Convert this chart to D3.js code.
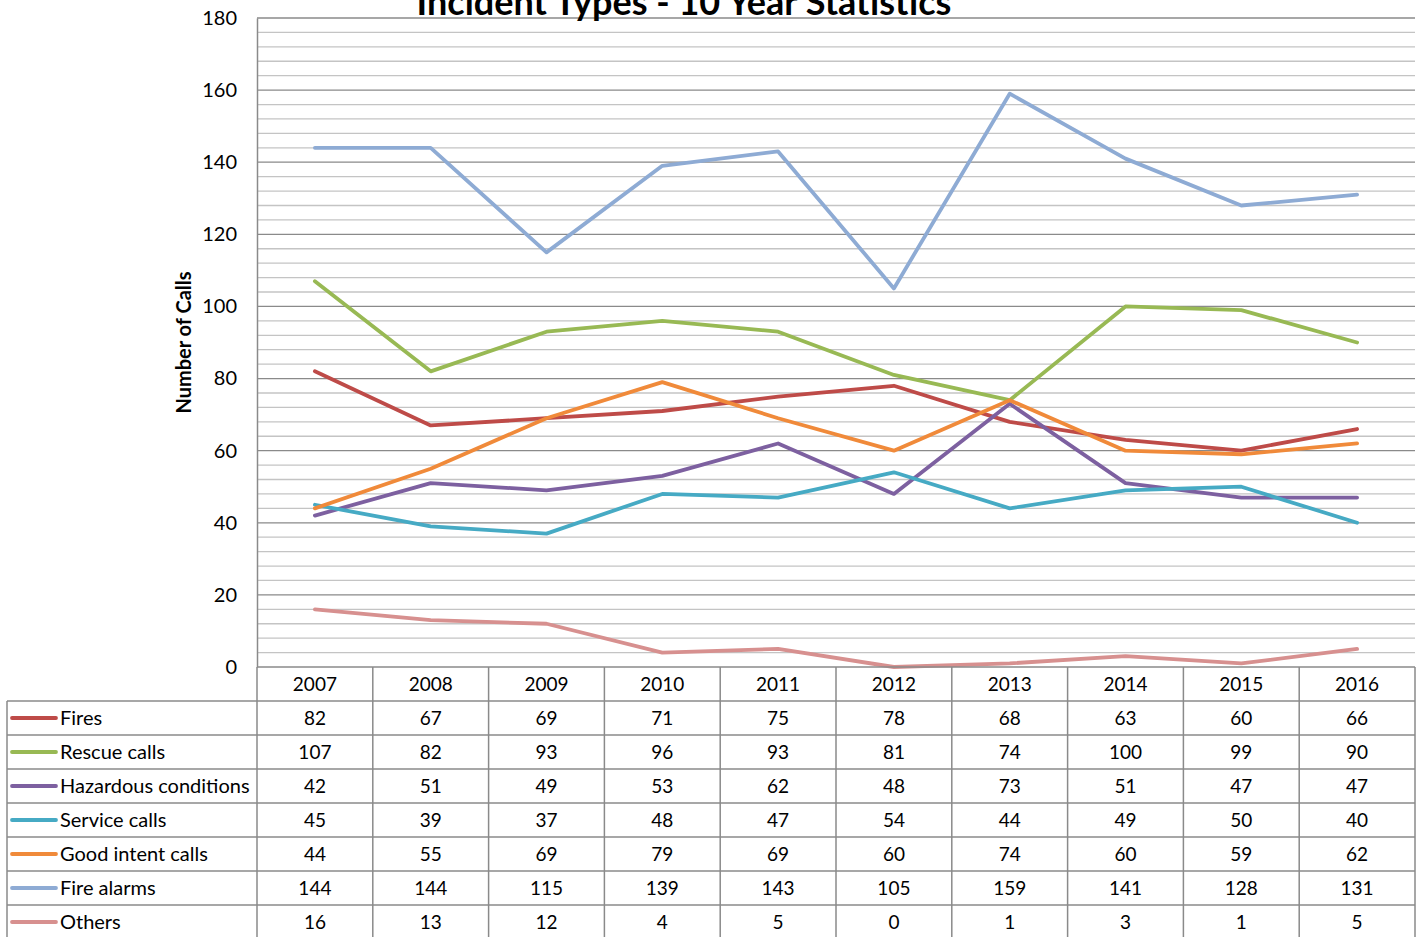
<!DOCTYPE html>
<meta charset="utf-8">
<style>
  body { margin: 0; background: #fff; }
  text { font-family: Lato, "Open Sans", sans-serif; fill: #000; }
</style>
<svg width="1421" height="937"></svg>
<script src="https://cdn.jsdelivr.net/npm/d3@7"></script>
<script>

  var years = ["2007", "2008", "2009", "2010", "2011", "2012", "2013", "2014", "2015", "2016"];
  var seriesNames = ["Fires", "Rescue calls", "Hazardous conditions", "Service calls", "Good intent calls", "Fire alarms", "Others"];

  var fires = [82, 67, 69, 71, 75, 78, 68, 63, 60, 66];
  var rescueCalls = [107, 82, 93, 96, 93, 81, 74, 100, 99, 90];
  var hazardous = [42, 51, 49, 53, 62, 48, 73, 51, 47, 47];
  var serviceCalls = [45, 39, 37, 48, 47, 54, 44, 49, 50, 40];
  var goodIntent = [44, 55, 69, 79, 69, 60, 74, 60, 59, 62];
  var fireAlarms = [144, 144, 115, 139, 143, 105, 159, 141, 128, 131];
  var others = [16, 13, 12, 4, 5, 0, 1, 3, 1, 5];

  var yTicks = [0, 20, 40, 60, 80, 100, 120, 140, 160, 180];

  var colors = ["#be4b48", "#98b954", "#7d60a0", "#46aac4", "#f08a3a", "#8eabd4", "#d7908f"];

  var series = [fires, rescueCalls, hazardous, serviceCalls, goodIntent, fireAlarms, others]
    .map(function(v, i) { return { name: seriesNames[i], values: v, color: colors[i] }; });

  var svg = d3.select("svg");
  // plot area box (window.top is reserved, so use prefixed names)
  var plotLeft = 257, plotRight = 1415, plotTop = 18, plotBottom = 667;
  var rowH = 34;

  var x = d3.scalePoint().domain(years).range([plotLeft, plotRight]).padding(0.5);
  var colBand = d3.scaleBand().domain(years).range([plotLeft, plotRight]);
  var y = d3.scaleLinear().domain([0, 180]).range([plotBottom, plotTop]);

  // minor gridlines every 4
  svg.append("g")
    .selectAll("line")
    .data(d3.range(0, 181, 4).filter(function(v) { return v % 20 !== 0; }))
    .enter().append("line")
    .attr("x1", plotLeft).attr("x2", plotRight)
    .attr("y1", function(d) { return y(d); }).attr("y2", function(d) { return y(d); })
    .attr("stroke", "#c4c4c4").attr("stroke-width", 1.3);

  // major gridlines
  svg.append("g")
    .selectAll("line")
    .data(yTicks.filter(function(v) { return v > 0; }))
    .enter().append("line")
    .attr("x1", plotLeft).attr("x2", plotRight)
    .attr("y1", function(d) { return y(d); }).attr("y2", function(d) { return y(d); })
    .attr("stroke", "#8a8a8a").attr("stroke-width", 1.3);

  // y axis
  var yAxis = svg.append("g")
    .attr("transform", "translate(" + plotLeft + ",0)")
    .call(d3.axisLeft(y).tickValues(yTicks).tickSize(0).tickPadding(20));
  yAxis.select(".domain").attr("stroke", "#8a8a8a").attr("stroke-width", 1.5);
  yAxis.selectAll("text")
    .style("font-family", "Lato, sans-serif").style("font-size", "20px").attr("fill", "#000");

  svg.append("text")
    .attr("transform", "translate(191," + ((plotTop + plotBottom) / 2) + ") rotate(-90)")
    .attr("text-anchor", "middle")
    .style("font-size", "20px").style("font-weight", "bold")
    .text("Number of Calls");

  // title (partly cut off at top)
  svg.append("text")
    .attr("x", 684).attr("y", 15)
    .attr("text-anchor", "middle")
    .style("font-size", "36px").style("font-weight", "bold")
    .text("Incident Types - 10 Year Statistics");

  // lines
  var line = d3.line()
    .x(function(d, i) { return x(years[i]); })
    .y(function(d) { return y(d); });

  svg.append("g")
    .selectAll("path")
    .data(series)
    .enter().append("path")
    .attr("d", function(d) { return line(d.values); })
    .attr("fill", "none")
    .attr("stroke", function(d) { return d.color; })
    .attr("stroke-width", 3.8)
    .attr("stroke-linejoin", "round")
    .attr("stroke-linecap", "round");

  // data table
  var rows = d3.scaleBand().domain(["header"].concat(seriesNames)).range([plotBottom, plotBottom + rowH * 8]);
  var table = svg.append("g");
  var border = "#8a8a8a";

  table.append("line")
    .attr("x1", plotLeft).attr("x2", plotRight).attr("y1", plotBottom).attr("y2", plotBottom)
    .attr("stroke", border).attr("stroke-width", 1.5);

  table.selectAll(".hline")
    .data(seriesNames)
    .enter().append("line")
    .attr("x1", 7).attr("x2", plotRight)
    .attr("y1", function(d) { return rows(d); }).attr("y2", function(d) { return rows(d); })
    .attr("stroke", border).attr("stroke-width", 1.5);

  table.selectAll(".vline")
    .data(years.concat(["end"]))
    .enter().append("line")
    .attr("x1", function(d, i) { return plotLeft + i * colBand.bandwidth(); })
    .attr("x2", function(d, i) { return plotLeft + i * colBand.bandwidth(); })
    .attr("y1", plotBottom).attr("y2", 937)
    .attr("stroke", border).attr("stroke-width", 1.5);

  table.append("line")
    .attr("x1", 7).attr("x2", 7).attr("y1", rows(seriesNames[0])).attr("y2", 937)
    .attr("stroke", border).attr("stroke-width", 1.5);

  // header years
  table.selectAll(".year")
    .data(years)
    .enter().append("text")
    .attr("x", function(d) { return x(d); })
    .attr("y", rows("header") + rowH / 2)
    .attr("dy", "0.35em")
    .attr("text-anchor", "middle")
    .style("font-size", "19px")
    .text(function(d) { return d; });

  var rowG = table.selectAll(".row")
    .data(series)
    .enter().append("g")
    .attr("transform", function(d) { return "translate(0," + (rows(d.name) + rowH / 2) + ")"; });

  rowG.append("line")
    .attr("x1", 12).attr("x2", 56).attr("y1", 0).attr("y2", 0)
    .attr("stroke", function(d) { return d.color; })
    .attr("stroke-width", 3.8).attr("stroke-linecap", "round");

  rowG.append("text")
    .attr("x", 60).attr("dy", "0.35em")
    .style("font-size", "20px")
    .text(function(d) { return d.name; });

  rowG.selectAll(".val")
    .data(function(d) { return d.values; })
    .enter().append("text")
    .attr("x", function(d, i) { return x(years[i]); })
    .attr("dy", "0.35em")
    .attr("text-anchor", "middle")
    .style("font-size", "19px")
    .text(function(d) { return d; });
</script>
